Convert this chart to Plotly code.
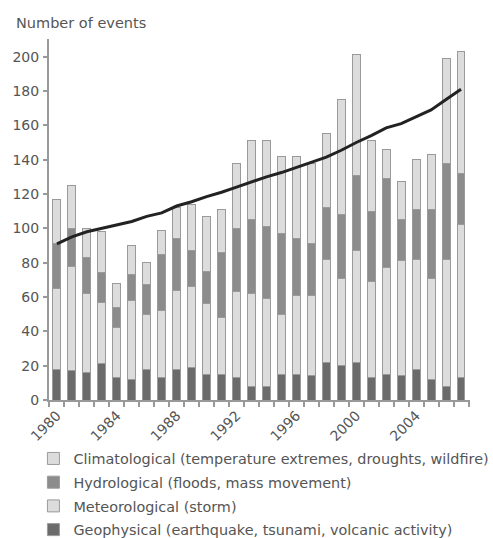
import plotly.graph_objects as go

years = list(range(1980, 2008))
geophysical = [18, 17, 16, 21, 13, 12, 18, 13, 18, 19, 15, 15, 13, 8, 8, 15, 15, 14, 22, 20, 22, 13, 15, 14, 18, 12, 8, 13]
meteorological = [47, 61, 46, 36, 29, 46, 32, 39, 46, 47, 41, 33, 50, 54, 51, 35, 46, 47, 60, 51, 65, 56, 62, 67, 64, 59, 74, 89]
hydrological = [26, 22, 21, 17, 12, 15, 17, 33, 30, 21, 19, 38, 37, 43, 42, 47, 33, 30, 30, 37, 44, 41, 52, 24, 29, 40, 56, 30]
climatological = [26, 25, 17, 24, 14, 17, 13, 14, 18, 27, 32, 25, 38, 46, 50, 45, 48, 47, 43, 67, 70, 41, 17, 22, 29, 32, 61, 71]
trend = [91, 95, 98, 100, 102, 104, 107, 109, 113, 115.5, 118.5, 121, 124, 127, 130, 132.5, 135.5, 138.5, 141.5, 145.5, 150, 154, 158.5, 161, 165, 169, 175, 181]
tick_years = [1980, 1984, 1988, 1992, 1996, 2000, 2004]

names = [
    "Geophysical (earthquake, tsunami, volcanic activity)",
    "Meteorological (storm)",
    "Hydrological (floods, mass movement)",
    "Climatological (temperature extremes, droughts, wildfire)",
]
series = [geophysical, meteorological, hydrological, climatological]
colors = ["#6b6b6b", "#dcdcdc", "#8c8c8c", "#dcdcdc"]

fig = go.Figure()
for i, (nm, vals, col) in enumerate(zip(names, series, colors)):
    fig.add_trace(go.Bar(
        x=years, y=vals, name=nm, legendgroup=f"g{i}", legendrank=100 + (len(names) - i),
        marker=dict(color=col, line=dict(color="#9a9a9a", width=1)),
    ))
fig.add_trace(go.Scatter(
    x=years, y=trend, mode="lines", showlegend=False,
    line=dict(color="#222222", width=3),
))

FONT = "DejaVu Sans"
fig.update_layout(
    width=493, height=538,
    margin=dict(l=49, r=23, t=39, b=138, autoexpand=False),
    barmode="stack", bargap=0.47,
    plot_bgcolor="white", paper_bgcolor="white",
    font=dict(family=FONT, size=14, color="#555555"),
    xaxis=dict(
        range=[1979.47, 2007.6], showgrid=False, zeroline=False, automargin=False,
        showline=True, linecolor="#999999", linewidth=2,
        tickvals=tick_years, ticktext=[str(y) for y in tick_years],
        tickangle=-45, ticks="", tickfont=dict(size=14, color="#555555"),
        minor=dict(tickvals=[y + 0.5 for y in range(1979, 2008)], ticks="outside",
                   ticklen=5, tickcolor="#999999", tickwidth=1.5),
    ),
    yaxis=dict(
        range=[0, 210.3], showgrid=False, zeroline=False, automargin=False,
        showline=True, linecolor="#999999", linewidth=2,
        tickvals=list(range(0, 201, 20)), ticks="outside", ticklen=4,
        tickcolor="#999999", tickwidth=1.5, ticklabelstandoff=1,
        tickfont=dict(size=14, color="#555555"),
    ),
    legend=dict(
        traceorder="grouped", tracegroupgap=2,
        x=-0.037, y=-0.118, xanchor="left", yanchor="top",
        font=dict(size=14.4, color="#555555"), bgcolor="rgba(0,0,0,0)",
        itemclick=False,
    ),
    annotations=[dict(
        text="Number of events", xref="paper", yref="paper",
        x=-0.083, y=1.045, xanchor="left", yanchor="middle",
        showarrow=False, font=dict(size=14.5, color="#555555"),
    )],
)

fig.write_html("out.html", config={"displayModeBar": False},
               post_script="document.body.style.margin='0';")
